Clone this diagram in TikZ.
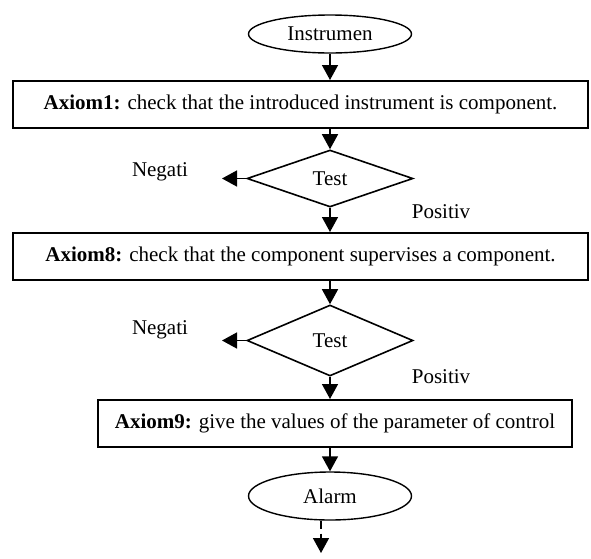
\documentclass[tikz,border=0pt]{standalone}
\usepackage{fontspec}
\setmainfont{Liberation Serif}
\usetikzlibrary{arrows.meta,shapes.geometric}

\begin{document}
\begin{tikzpicture}[x=1pt,y=-1pt,
  every node/.style = {font=\fontsize{21}{25}\selectfont},
  term/.style   = {draw, ellipse, line width=1.4pt, inner sep=0pt,
                   minimum width=163pt, minimum height=38pt},
  axiom/.style  = {draw, line width=2pt, inner sep=0pt, minimum height=47pt},
  test/.style   = {draw, diamond, line width=1.6pt, inner sep=0pt,
                   minimum width=166pt},
  lbl/.style    = {inner sep=0pt},
  arrow/.style  = {line width=1.5pt, -{Triangle[length=15pt,width=16pt]}},
  darrow/.style = {arrow, dash pattern=on 8pt off 5pt},
                   % the exit of the alarm: dashed, it leaves the chart
]
  \useasboundingbox (0,0) rectangle (591,558);

  \node[term] (instr) at (330,34) {Instrumen};
  \node[axiom, minimum width=575pt] (ax1) at (300.5,104.5)
    {\textbf{Axiom1:} check that the introduced instrument is component.};
  \node[test, minimum height=57pt] (test1) at (330,178.5) {Test};
  \node[lbl] (neg1) at (160,172) {Negati};
  \node[lbl] (pos1) at (441,212) {Positiv};
  \coordinate (neg1end) at (222,178.5);

  \node[axiom, minimum width=575pt] (ax8) at (300.5,256.5)
    {\textbf{Axiom8:} check that the component supervises a component.};
  \node[test, minimum height=71pt] (test2) at (330,340.5) {Test};
  \node[lbl] (neg2) at (160,330) {Negati};
  \node[lbl] (pos2) at (441,377) {Positiv};
  \coordinate (neg2end) at (222,340.5);

  \node[axiom, minimum width=474pt] (ax9) at (335,423.5)
    {\textbf{Axiom9:} give the values of the parameter of control};
  \node[term, minimum height=48pt] (alarm) at (330,496) {Alarm};
  \coordinate (alarmend) at (321,553);

  % main flow, top to bottom
  \draw[arrow] (instr.south) -- (instr.south |- ax1.north);
  \draw[arrow] (test1.north |- ax1.south) -- (test1.north);
  \draw[arrow] (test1.west) -- (neg1end);
  \draw[arrow] (test1.south) -- (test1.south |- ax8.north);
  \draw[arrow] (test2.north |- ax8.south) -- (test2.north);
  \draw[arrow] (test2.west) -- (neg2end);
  \draw[arrow] (test2.south) -- (test2.south |- ax9.north);
  \draw[arrow] (alarm.north |- ax9.south) -- (alarm.north);
  \draw[darrow] (alarm.south -| alarmend) -- (alarmend);
\end{tikzpicture}
\end{document}
